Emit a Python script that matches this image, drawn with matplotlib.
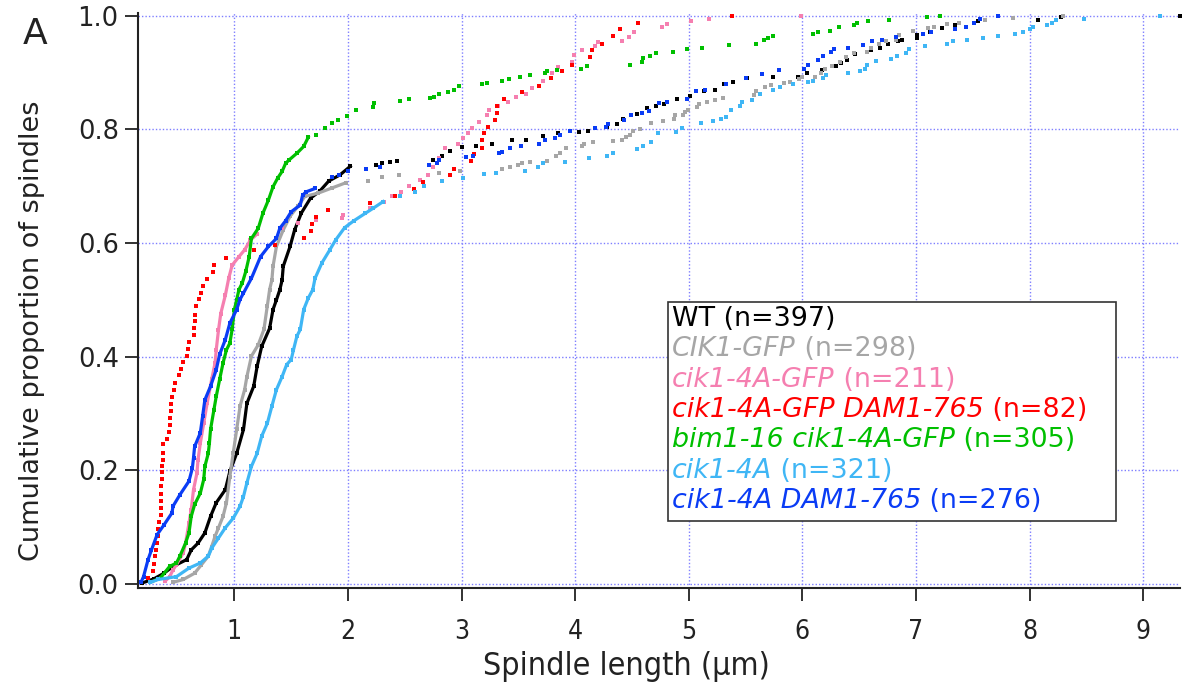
import matplotlib
matplotlib.use("Agg")
import matplotlib.pyplot as plt
from matplotlib.patches import Rectangle
from matplotlib.ticker import FormatStrFormatter

# Cumulative spindle-length distributions as (length um, cumulative proportion)
# "steep" = densely packed part of each curve, "tail" = the separated points above it

wt_steep = [(0.19, 0.002), (0.29, 0.009), (0.38, 0.019), (0.46, 0.031), (0.58, 0.043), (0.62, 0.060),
            (0.68, 0.072), (0.74, 0.090), (0.79, 0.119), (0.84, 0.143), (0.92, 0.166), (0.96, 0.198),
            (1.02, 0.230), (1.08, 0.272), (1.11, 0.318), (1.17, 0.348), (1.20, 0.383), (1.24, 0.418),
            (1.31, 0.450), (1.34, 0.483), (1.37, 0.500), (1.40, 0.518), (1.42, 0.535), (1.43, 0.559),
            (1.49, 0.594), (1.53, 0.623), (1.59, 0.653), (1.67, 0.679), (1.75, 0.691), (1.83, 0.709),
            (1.93, 0.720), (2.02, 0.735)]
wt_tail = [(2.25, 0.737), (2.30, 0.741), (2.37, 0.743), (2.43, 0.745), (2.75, 0.747), (2.83, 0.753),
           (2.90, 0.762), (3.00, 0.769), (3.13, 0.770), (3.27, 0.775), (3.44, 0.781), (3.57, 0.782),
           (3.72, 0.788), (3.85, 0.793), (4.03, 0.795), (4.11, 0.798), (4.28, 0.804), (4.37, 0.809),
           (4.42, 0.818), (4.54, 0.827), (4.63, 0.837), (4.71, 0.842), (4.78, 0.844), (4.90, 0.853),
           (5.01, 0.858), (5.13, 0.867), (5.23, 0.870), (5.31, 0.879), (5.39, 0.884), (5.51, 0.890),
           (5.74, 0.892), (5.96, 0.893), (6.04, 0.899), (6.17, 0.904), (6.30, 0.911), (6.34, 0.916),
           (6.39, 0.922), (6.46, 0.932), (6.60, 0.939), (6.68, 0.944), (6.75, 0.950), (6.84, 0.955),
           (6.88, 0.957), (7.01, 0.960), (7.01, 0.966), (7.12, 0.972), (7.23, 0.978), (7.34, 0.983),
           (7.51, 0.987), (7.55, 0.990), (8.07, 0.993), (8.28, 0.997), (9.32, 1.000)]

cik1_steep = [(0.46, 0.003), (0.55, 0.008), (0.65, 0.019), (0.71, 0.034), (0.77, 0.049), (0.80, 0.066),
              (0.83, 0.084), (0.86, 0.099), (0.90, 0.119), (0.93, 0.143), (0.96, 0.189), (0.99, 0.231),
              (1.02, 0.272), (1.05, 0.313), (1.09, 0.342), (1.11, 0.365), (1.15, 0.401), (1.21, 0.421),
              (1.26, 0.448), (1.29, 0.490), (1.31, 0.518), (1.33, 0.535), (1.34, 0.559), (1.37, 0.594),
              (1.43, 0.623), (1.49, 0.647), (1.56, 0.665), (1.62, 0.682), (1.74, 0.688), (1.86, 0.697),
              (1.98, 0.706)]
cik1_tail = [(2.18, 0.710), (2.30, 0.717), (2.45, 0.720), (2.80, 0.723), (2.99, 0.727), (3.36, 0.730),
             (3.43, 0.733), (3.50, 0.737), (3.53, 0.740), (3.60, 0.742), (3.75, 0.745), (3.83, 0.754),
             (3.87, 0.758), (3.92, 0.767), (4.06, 0.770), (4.08, 0.774), (4.16, 0.777), (4.33, 0.779),
             (4.41, 0.782), (4.45, 0.786), (4.48, 0.791), (4.51, 0.797), (4.57, 0.800), (4.67, 0.811),
             (4.77, 0.814), (4.87, 0.819), (4.88, 0.825), (4.95, 0.826), (4.97, 0.830), (4.99, 0.834),
             (5.07, 0.839), (5.09, 0.844), (5.16, 0.848), (5.23, 0.851), (5.30, 0.855), (5.57, 0.860),
             (5.59, 0.867), (5.67, 0.874), (5.72, 0.878), (5.84, 0.881), (5.89, 0.884), (5.97, 0.888),
             (6.00, 0.892), (6.11, 0.893), (6.16, 0.900), (6.20, 0.906), (6.26, 0.911), (6.33, 0.918),
             (6.38, 0.927), (6.45, 0.934), (6.57, 0.937), (6.60, 0.944), (6.67, 0.951), (6.74, 0.955),
             (6.82, 0.958), (6.85, 0.966), (6.97, 0.974), (7.11, 0.978), (7.16, 0.981), (7.27, 0.985),
             (7.38, 0.988), (7.61, 0.992), (7.85, 0.996), (8.29, 1.000)]

c4agfp_steep = [(0.39, 0.005), (0.43, 0.013), (0.46, 0.025), (0.49, 0.034), (0.55, 0.055), (0.57, 0.072),
                (0.60, 0.107), (0.62, 0.131), (0.64, 0.166), (0.67, 0.195), (0.68, 0.219), (0.70, 0.248),
                (0.73, 0.283), (0.76, 0.318), (0.80, 0.360), (0.83, 0.389), (0.84, 0.412), (0.86, 0.447),
                (0.88, 0.476), (0.92, 0.508), (0.95, 0.538), (0.98, 0.561), (1.04, 0.576), (1.09, 0.588),
                (1.14, 0.605), (1.20, 0.616)]
c4agfp_tail = [(1.42, 0.626), (1.56, 0.635), (1.72, 0.641), (1.95, 0.644), (1.96, 0.650), (2.19, 0.661),
               (2.32, 0.673), (2.39, 0.682), (2.47, 0.689), (2.54, 0.700), (2.63, 0.711), (2.70, 0.720),
               (2.75, 0.734), (2.80, 0.749), (2.85, 0.767), (2.97, 0.774), (3.01, 0.784), (3.06, 0.794),
               (3.09, 0.802), (3.15, 0.813), (3.22, 0.825), (3.24, 0.834), (3.32, 0.842), (3.41, 0.848),
               (3.48, 0.857), (3.57, 0.862), (3.62, 0.872), (3.72, 0.886), (3.80, 0.900), (3.85, 0.909),
               (3.97, 0.919), (3.99, 0.931), (4.06, 0.939), (4.17, 0.946), (4.20, 0.953), (4.41, 0.956),
               (4.47, 0.962), (4.52, 0.971), (4.76, 0.981), (4.81, 0.986), (5.02, 0.990), (5.18, 0.995),
               (5.99, 1.000)]

c4agfp_dam1 = [(0.24, 0.011), (0.28, 0.023), (0.29, 0.036), (0.30, 0.049), (0.31, 0.060), (0.32, 0.072),
               (0.33, 0.085), (0.33, 0.097), (0.34, 0.110), (0.35, 0.122), (0.35, 0.134), (0.35, 0.146),
               (0.35, 0.159), (0.35, 0.172), (0.36, 0.184), (0.36, 0.197), (0.36, 0.208), (0.37, 0.219),
               (0.37, 0.231), (0.37, 0.246), (0.41, 0.255), (0.42, 0.267), (0.43, 0.280), (0.43, 0.292),
               (0.44, 0.304), (0.44, 0.317), (0.45, 0.329), (0.47, 0.342), (0.48, 0.354), (0.51, 0.367),
               (0.53, 0.379), (0.55, 0.390), (0.58, 0.402), (0.59, 0.414), (0.60, 0.426), (0.64, 0.439),
               (0.64, 0.451), (0.65, 0.463), (0.65, 0.474), (0.66, 0.489), (0.69, 0.501), (0.71, 0.512),
               (0.72, 0.525), (0.76, 0.537), (0.81, 0.549), (0.82, 0.561), (0.93, 0.574), (1.17, 0.587),
               (1.36, 0.597), (1.61, 0.609), (1.67, 0.622), (1.68, 0.633), (1.72, 0.646), (1.82, 0.658),
               (2.19, 0.670), (2.41, 0.683), (2.58, 0.695), (2.66, 0.707), (2.90, 0.719), (2.93, 0.731),
               (3.08, 0.744), (3.11, 0.756), (3.18, 0.768), (3.18, 0.781), (3.20, 0.793), (3.23, 0.805),
               (3.29, 0.816), (3.31, 0.828), (3.31, 0.841), (3.37, 0.853), (3.53, 0.865), (3.68, 0.877),
               (3.79, 0.890), (3.88, 0.902), (3.97, 0.914), (4.13, 0.927), (4.15, 0.939), (4.24, 0.951),
               (4.33, 0.964), (4.39, 0.976), (4.55, 0.988), (5.38, 1.000)]

bim1_steep = [(0.26, 0.003), (0.35, 0.011), (0.43, 0.031), (0.49, 0.037), (0.52, 0.049), (0.57, 0.072),
              (0.60, 0.090), (0.62, 0.119), (0.65, 0.140), (0.70, 0.160), (0.73, 0.184), (0.74, 0.207),
              (0.77, 0.230), (0.78, 0.248), (0.79, 0.272), (0.82, 0.307), (0.84, 0.330), (0.87, 0.360),
              (0.90, 0.389), (0.93, 0.412), (0.96, 0.424), (0.98, 0.448), (1.00, 0.483), (1.02, 0.500),
              (1.04, 0.518), (1.07, 0.530), (1.10, 0.550), (1.13, 0.576), (1.15, 0.608), (1.21, 0.626),
              (1.25, 0.652), (1.30, 0.676), (1.34, 0.699), (1.38, 0.714), (1.42, 0.726), (1.45, 0.740),
              (1.48, 0.746), (1.55, 0.758), (1.61, 0.770), (1.65, 0.786)]
bim1_tail = [(1.72, 0.790), (1.80, 0.802), (1.86, 0.811), (1.91, 0.816), (1.99, 0.824), (2.07, 0.834),
             (2.22, 0.840), (2.23, 0.846), (2.46, 0.850), (2.54, 0.853), (2.72, 0.855), (2.76, 0.857),
             (2.80, 0.862), (2.88, 0.865), (2.93, 0.869), (2.98, 0.876), (3.18, 0.879), (3.22, 0.881),
             (3.36, 0.885), (3.42, 0.888), (3.51, 0.892), (3.60, 0.895), (3.73, 0.899), (3.75, 0.902),
             (3.84, 0.904), (4.05, 0.907), (4.10, 0.911), (4.48, 0.914), (4.59, 0.918), (4.60, 0.925),
             (4.66, 0.929), (4.71, 0.934), (4.86, 0.937), (4.98, 0.941), (5.12, 0.944), (5.35, 0.948),
             (5.59, 0.951), (5.66, 0.957), (5.70, 0.960), (5.74, 0.964), (6.09, 0.967), (6.14, 0.971),
             (6.24, 0.974), (6.32, 0.980), (6.45, 0.983), (6.48, 0.987), (6.58, 0.990), (6.76, 0.993),
             (7.10, 0.997), (7.21, 1.000)]

c4a_steep = [(0.26, 0.003), (0.33, 0.008), (0.49, 0.013), (0.60, 0.028), (0.70, 0.037), (0.77, 0.049),
             (0.80, 0.063), (0.86, 0.081), (0.92, 0.099), (0.99, 0.116), (1.05, 0.137), (1.08, 0.154),
             (1.11, 0.178), (1.15, 0.207), (1.20, 0.230), (1.24, 0.260), (1.29, 0.283), (1.33, 0.313),
             (1.37, 0.342), (1.42, 0.365), (1.46, 0.386), (1.50, 0.395), (1.52, 0.412), (1.55, 0.436),
             (1.58, 0.448), (1.61, 0.483), (1.65, 0.503), (1.69, 0.518), (1.71, 0.538), (1.77, 0.565),
             (1.84, 0.588), (1.89, 0.605), (1.97, 0.627), (2.05, 0.639), (2.15, 0.652), (2.22, 0.661),
             (2.31, 0.673)]
c4a_tail = [(2.46, 0.682), (2.59, 0.690), (2.67, 0.700), (2.83, 0.709), (3.01, 0.714), (3.20, 0.721),
            (3.30, 0.724), (3.56, 0.726), (3.67, 0.733), (3.72, 0.740), (3.91, 0.742), (4.12, 0.749),
            (4.28, 0.754), (4.33, 0.758), (4.54, 0.765), (4.60, 0.770), (4.67, 0.777), (4.73, 0.793),
            (4.89, 0.795), (4.94, 0.802), (5.11, 0.811), (5.21, 0.814), (5.28, 0.818), (5.33, 0.821),
            (5.37, 0.834), (5.45, 0.842), (5.47, 0.849), (5.56, 0.851), (5.63, 0.863), (5.74, 0.870),
            (5.80, 0.874), (5.92, 0.879), (6.05, 0.883), (6.09, 0.886), (6.18, 0.890), (6.21, 0.895),
            (6.40, 0.899), (6.51, 0.902), (6.55, 0.907), (6.57, 0.914), (6.65, 0.920), (6.78, 0.923),
            (6.83, 0.930), (6.91, 0.935), (6.94, 0.942), (7.08, 0.946), (7.27, 0.951), (7.33, 0.955),
            (7.45, 0.958), (7.59, 0.960), (7.72, 0.964), (7.87, 0.967), (7.94, 0.971), (8.00, 0.976),
            (8.03, 0.980), (8.15, 0.983), (8.20, 0.987), (8.23, 0.992), (8.48, 0.995), (9.15, 1.000)]

c4a_dam1_steep = [(0.18, 0.004), (0.20, 0.013), (0.24, 0.043), (0.27, 0.060), (0.32, 0.087), (0.38, 0.104),
                  (0.45, 0.125), (0.46, 0.137), (0.52, 0.157), (0.60, 0.181), (0.63, 0.204), (0.64, 0.222),
                  (0.65, 0.242), (0.70, 0.266), (0.72, 0.295), (0.74, 0.324), (0.79, 0.348), (0.84, 0.377),
                  (0.87, 0.404), (0.92, 0.430), (0.96, 0.459), (1.02, 0.483), (1.05, 0.501), (1.08, 0.512),
                  (1.15, 0.538), (1.23, 0.576), (1.30, 0.594), (1.37, 0.608), (1.40, 0.626), (1.45, 0.639),
                  (1.50, 0.655), (1.58, 0.667), (1.60, 0.684), (1.63, 0.690), (1.71, 0.696)]
c4a_dam1_tail = [(1.86, 0.717), (1.92, 0.720), (2.00, 0.726), (2.16, 0.730), (2.28, 0.733), (2.71, 0.737),
                 (2.78, 0.740), (2.80, 0.747), (3.04, 0.751), (3.10, 0.754), (3.33, 0.758), (3.36, 0.761),
                 (3.43, 0.767), (3.52, 0.770), (3.68, 0.775), (3.73, 0.781), (3.82, 0.784), (3.87, 0.791),
                 (3.95, 0.798), (4.17, 0.802), (4.27, 0.805), (4.29, 0.809), (4.43, 0.816), (4.49, 0.825),
                 (4.59, 0.828), (4.65, 0.832), (4.74, 0.846), (4.81, 0.849), (4.98, 0.853), (5.06, 0.867),
                 (5.14, 0.870), (5.33, 0.879), (5.50, 0.890), (5.64, 0.897), (5.79, 0.904), (6.01, 0.907),
                 (6.05, 0.914), (6.14, 0.922), (6.18, 0.929), (6.25, 0.937), (6.28, 0.941), (6.40, 0.944),
                 (6.53, 0.948), (6.61, 0.955), (6.70, 0.958), (6.82, 0.962), (7.06, 0.967), (7.13, 0.972),
                 (7.34, 0.976), (7.44, 0.980), (7.51, 0.987), (7.56, 0.995), (7.72, 1.000)]

# legend entries: (italic genotype, plain part, colour, curve pieces)
series = [
    ("", "WT (n=397)", "#000000", wt_steep, wt_tail),
    ("CIK1-GFP", " (n=298)", "#a6a6a6", cik1_steep, cik1_tail),
    ("cik1-4A-GFP", " (n=211)", "#f57fb0", c4agfp_steep, c4agfp_tail),
    ("cik1-4A-GFP DAM1-765", " (n=82)", "#ff0000", [], c4agfp_dam1),
    ("bim1-16 cik1-4A-GFP", " (n=305)", "#00bf00", bim1_steep, bim1_tail),
    ("cik1-4A", " (n=321)", "#3fb6f5", c4a_steep, c4a_tail),
    ("cik1-4A DAM1-765", " (n=276)", "#0a3cf5", c4a_dam1_steep, c4a_dam1_tail),
]

plt.rcParams['font.family'] = ['DejaVu Sans']
INK = '#222222'

W, H = 1183, 682
fig = plt.figure(figsize=(W / 100, H / 100), dpi=100)
ax = fig.add_axes([137.5 / W, 1 - 588 / H, (1180 - 137.5) / W, (588 - 13) / H])

for name, n_txt, col, steep, tail in series:
    if steep:
        ax.plot([p[0] for p in steep], [p[1] for p in steep], color=col, lw=2.3,
                solid_joinstyle='miter', zorder=3)
    pts = steep + tail
    ax.plot([p[0] for p in pts], [p[1] for p in pts], ls='none', marker='s', ms=2.4,
            mew=0, color=col, zorder=3, clip_on=False)

ax.set_xlim(0.147, 9.324)
ax.set_ylim(-0.007, 1.0048)
ax.set_xticks(range(1, 10))
ax.set_yticks([0, 0.2, 0.4, 0.6, 0.8, 1.0])
ax.yaxis.set_major_formatter(FormatStrFormatter('%.1f'))
ax.grid(True, color='#7f7fff', ls=(0, (1, 1.5)), lw=1)
ax.set_axisbelow(True)
for s in ['top', 'right']:
    ax.spines[s].set_visible(False)
for s in ['left', 'bottom']:
    ax.spines[s].set_linewidth(1.5)
    ax.spines[s].set_color(INK)
ax.tick_params(direction='out', length=9.5, width=1.3, color=INK)
ax.tick_params(axis='y', labelsize=18.5, pad=4, labelcolor=INK)
ax.tick_params(axis='x', labelsize=19, pad=13, labelcolor=INK)
for lab in ax.get_xticklabels():
    lab.set_fontstretch('condensed')

fig.text(32 / W, 1 - 331 / H, 'Cumulative proportion of spindles', fontsize=19.5, color=INK,
         rotation=90, ha='center', va='center')
fig.text(626 / W, 1 - 675 / H, 'Spindle length (µm)', fontsize=23, color=INK,
         fontstretch='condensed', ha='center', va='baseline')
fig.text(23 / W, 1 - 44 / H, 'A', fontsize=26, color=INK)

# legend box with coloured text
ax.add_patch(Rectangle((668 / W, 1 - 521 / H), (1116 - 668) / W, (521 - 302) / H,
                       transform=fig.transFigure, facecolor='white', edgecolor='#333333',
                       lw=1.2, zorder=5, clip_on=False))
for i, (name, n_txt, col, steep, tail) in enumerate(series):
    base = 1 - (326 + i * 30.3) / H
    if not name:
        ax.text(672 / W, base, n_txt, color=col, fontsize=19.4, va='baseline',
                transform=fig.transFigure, zorder=6)
        continue
    t = ax.text(672 / W, base, name, style='italic', color=col, fontsize=19.4,
                va='baseline', transform=fig.transFigure, zorder=6)
    ax.annotate(n_txt, xy=(1, 0), xycoords=t, va='bottom', ha='left', color=col,
                fontsize=19.4, zorder=6, annotation_clip=False)

fig.savefig('out.png', dpi=100)
